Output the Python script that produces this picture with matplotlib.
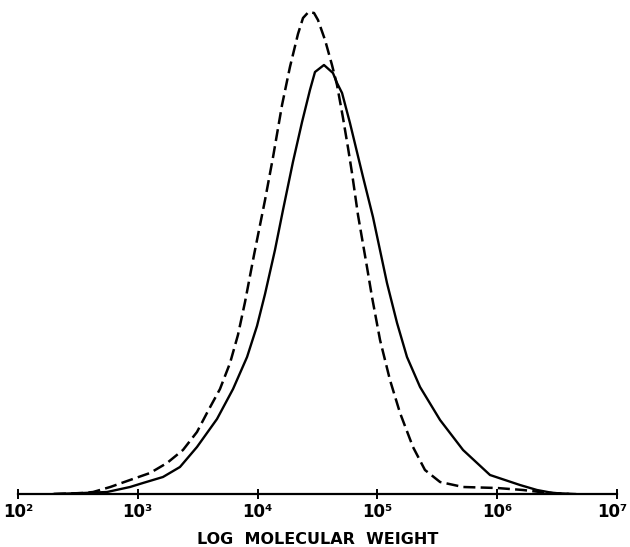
import numpy as np
import matplotlib
matplotlib.use("Agg")
import matplotlib.pyplot as plt
from matplotlib.transforms import ScaledTranslation

# log10 molecular weight and relative amount (arbitrary units)
dashed_logM = [2.300, 2.543, 2.627, 2.770, 2.935, 3.102, 3.244, 3.377, 3.494, 3.586,
               3.686, 3.770, 3.836, 3.895, 3.970, 4.062, 4.129, 4.204, 4.270, 4.337,
               4.379, 4.425, 4.471, 4.504, 4.563, 4.621, 4.663, 4.713, 4.755, 4.788,
               4.838, 4.913, 4.955, 5.022, 5.105, 5.189, 5.297, 5.397, 5.523, 5.715,
               5.998, 6.215, 6.357, 6.466, 6.600]
dashed_amt = [0, 1, 2, 7, 14, 21, 31, 44, 62, 83,
              105, 131, 159, 192, 239, 294, 337, 389, 427, 460,
              476, 482, 481, 474, 454, 429, 409, 376, 346, 321,
              279, 227, 197, 154, 114, 81, 47, 24, 12, 7,
              6, 4, 2, 1, 0]

solid_logM = [2.300, 2.543, 2.743, 2.935, 3.043, 3.210, 3.352, 3.494, 3.661, 3.795,
              3.912, 3.995, 4.062, 4.145, 4.212, 4.295, 4.371, 4.437, 4.479, 4.554,
              4.629, 4.663, 4.705, 4.771, 4.880, 4.963, 5.080, 5.164, 5.247, 5.356,
              5.523, 5.715, 5.940, 6.190, 6.332, 6.466, 6.650]
solid_amt = [0, 1, 2, 7, 11, 17, 27, 47, 75, 105,
             137, 168, 200, 244, 284, 332, 372, 404, 422, 429,
             421, 411, 401, 371, 317, 277, 211, 171, 137, 107,
             74, 44, 19, 9, 4, 1, 0]

tick_exps = [2, 3, 4, 5, 6, 7]
tick_labels = ["10²", "10³", "10⁴", "10⁵", "10⁶", "10⁷"]
xlabel = "LOG  MOLECULAR  WEIGHT"

fig = plt.figure(figsize=(6.30, 5.47), dpi=100)
ax = fig.add_axes([18/630, 53/547, 599/630, 494/547])

ax.plot(10**np.array(solid_logM), solid_amt, color="black", lw=1.7, solid_joinstyle="round")
ax.plot(10**np.array(dashed_logM), dashed_amt, color="black", lw=1.8,
        dashes=(4.8, 2.1), dash_capstyle="butt")

ax.set_xscale("log")
ax.set_xlim(1e2, 1e7)
ax.set_ylim(0, 494)

for s in ["top", "left", "right"]:
    ax.spines[s].set_visible(False)
ax.spines["bottom"].set_linewidth(1.6)
ax.set_yticks([])
ax.set_xticks([10.0**e for e in tick_exps])
ax.set_xticklabels(tick_labels, fontsize=12, fontweight="bold", family="DejaVu Sans")
ax.xaxis.set_minor_locator(matplotlib.ticker.NullLocator())
ax.tick_params(axis="x", direction="inout", length=7, width=1.4, pad=3)
last = ax.get_xticklabels()[-1]
last.set_horizontalalignment("right")
last.set_transform(last.get_transform() + ScaledTranslation(10/100, 0, fig.dpi_scale_trans))
ax.set_xlabel(xlabel, fontsize=11.5, fontweight="bold", family="DejaVu Sans", labelpad=8)
ax.patch.set_alpha(0)

fig.savefig("out.png", dpi=100)
